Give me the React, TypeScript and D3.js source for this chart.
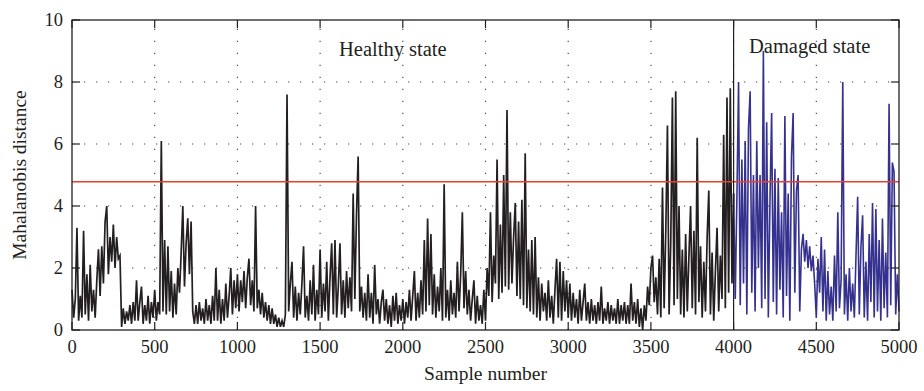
import React from "react";
import * as d3 from "d3";

// Mahalanobis distance, one value every 10 samples
const STEP = 10;
const healthy0 = [1.3,0.4,1.0,3.3,0.3,1.1,0.4,3.2,0.5,1.8,0.3,2.1,0.6,1.3,0.4,1.6,2.6,1.1,2.7,1.5,3.5,4.0,1.8,3.0,2.2,3.4,2.0,3.0,2.3,2.4,0.1,0.7,0.2,0.6,0.3,0.8,0.2,0.9,0.3,1.6,0.3,0.9,1.4,0.2,0.8,0.3,1.1,0.2,0.9,0.4];
const healthy1 = [1.3,0.3,0.9,0.5,6.1,0.6,2.9,0.5,2.7,0.6,1.9,0.4,1.5,0.5,2.0,1.2,2.5,4.0,1.4,2.8,3.6,1.8,3.5,0.6,0.2,0.8,0.2,0.9,0.3,0.7,0.2,1.0,0.3,0.8,0.2,1.1,0.3,2.0,0.3,1.3,0.2,1.0,0.3,1.5,0.4,1.1,2.0,0.5,1.6,0.7];
const healthy2 = [1.8,0.6,1.6,0.9,1.9,0.7,1.7,2.3,0.8,1.6,0.6,4.0,0.7,1.3,0.5,1.2,0.4,0.9,0.3,0.8,0.2,0.7,0.2,0.5,0.1,0.4,0.1,0.3,0.1,0.5,7.6,0.6,1.5,2.2,0.4,1.4,0.3,1.2,0.5,1.5,2.7,0.4,1.1,0.3,1.6,0.5,2.1,0.3,1.3,0.5];
const healthy3 = [2.6,0.4,1.5,0.6,2.2,0.3,1.7,2.8,0.5,2.9,0.4,1.4,2.8,0.5,1.6,0.4,1.9,0.7,1.7,0.6,4.4,1.0,3.7,5.6,0.6,1.4,0.4,1.2,0.3,1.8,0.4,1.2,0.2,2.1,0.5,1.0,0.2,0.9,1.3,0.3,1.0,0.2,0.8,0.1,1.1,0.3,1.2,0.2,0.8,0.3];
const healthy4 = [1.0,0.2,0.9,0.4,1.3,0.3,1.1,1.9,0.3,1.2,0.4,1.6,0.5,2.9,0.6,3.6,0.8,3.1,0.5,1.8,0.4,1.4,0.6,2.0,0.3,4.7,0.4,1.3,0.3,1.6,0.5,1.2,0.4,2.2,0.6,1.8,3.8,0.7,1.9,0.5,1.3,0.3,1.0,1.6,0.2,1.1,0.3,0.8,0.2,1.3];
const healthy5 = [0.3,2.0,1.1,3.8,0.9,2.4,1.5,5.5,1.0,3.4,1.2,5.0,1.4,7.1,1.3,3.8,1.5,3.0,4.1,1.1,3.5,1.0,4.2,0.8,5.7,0.7,2.6,0.6,2.9,0.5,3.0,0.4,1.7,0.3,1.5,0.6,1.2,0.3,1.6,0.4,1.1,0.2,1.3,2.3,0.4,2.2,0.3,1.9,0.6,1.6];
const healthy6 = [0.4,1.5,0.3,1.2,0.4,1.0,0.2,1.3,0.3,0.9,1.5,0.3,0.9,0.2,1.0,0.3,0.8,0.2,0.9,0.3,1.4,0.2,0.7,0.3,0.9,0.2,0.8,0.3,0.7,0.2,1.0,0.2,0.8,0.3,0.9,0.2,0.8,0.2,1.5,0.3,0.9,0.2,1.0,0.1,0.7,0.0,0.8,0.3,1.4,0.8];
const healthy7 = [2.0,2.4,0.9,1.7,0.5,2.3,0.4,4.6,0.7,3.2,6.6,0.5,2.8,7.5,0.8,7.7,1.0,4.0,0.5,2.6,0.4,3.1,0.6,2.4,4.0,0.7,3.2,0.5,6.2,0.9,2.7,0.4,2.2,0.6,3.0,4.5,0.5,2.5,0.3,1.9,3.3,0.6,2.4,1.0,6.3,0.7,7.5,1.2,7.8,1.5];
const damaged0 = [4.4,1.0,4.3,8.0,0.8,5.5,1.5,6.1,0.5,6.5,7.7,1.2,5.0,0.6,6.1,2.0,5.0,0.7,9.0,1.0,6.7,0.4,4.2,7.0,0.9,5.2,0.5,4.9,1.3,3.8,0.4,6.9,1.1,4.4,0.3,5.6,7.0,1.2,4.5,5.0,0.6,2.6,3.1,2.2,2.9,2.0,2.7,1.9,2.4,1.5];
const damaged1 = [0.4,2.3,1.2,3.0,0.6,2.6,0.3,1.9,0.5,1.4,0.3,2.4,0.6,3.8,0.7,1.6,8.0,0.5,1.8,0.3,2.0,0.6,1.5,0.4,2.4,4.3,0.5,2.7,3.7,0.4,2.2,0.3,3.1,0.9,4.1,0.4,3.9,0.6,2.9,0.3,3.6,0.7,2.5,0.4,7.3,0.8,5.4,5.1,0.5,1.8,0.6];

const HEALTHY_START = 0;
const DAMAGED_START = 4000;
const THRESHOLD = 4.78;
const X_TICKS = [0, 500, 1000, 1500, 2000, 2500, 3000, 3500, 4000, 4500, 5000];
const Y_TICKS = [0, 2, 4, 6, 8, 10];
const X_LABEL = "Sample number";
const Y_LABEL = "Mahalanobis distance";
const HEALTHY_LABEL = "Healthy state";
const DAMAGED_LABEL = "Damaged state";

const W = 924, H = 391;
const M = { left: 72, right: 25, top: 20, bottom: 61 };
const FONT = "'Liberation Serif', 'Times New Roman', serif";
const INK = "#231f20";

export default function App() {
  const healthy = [...healthy0, ...healthy1, ...healthy2, ...healthy3, ...healthy4, ...healthy5, ...healthy6, ...healthy7]
    .map((v, i) => ({ x: HEALTHY_START + i * STEP, y: v }));
  const damaged = [...damaged0, ...damaged1].map((v, i) => ({ x: DAMAGED_START + i * STEP, y: v }));
  healthy.push({ x: DAMAGED_START, y: damaged[0].y });

  const x = d3.scaleLinear().domain([0, 5000]).range([M.left, W - M.right]);
  const y = d3.scaleLinear().domain([0, 10]).range([H - M.bottom, M.top]);
  const line = d3.line<{ x: number; y: number }>().x(d => x(d.x)).y(d => y(d.y));

  const x0 = x(0), x1 = x(5000), y0 = y(0), y1 = y(10);
  const tick = 8;

  return (
    <svg width={W} height={H} style={{ position: "absolute", left: 0, top: 0, background: "#fff" }}
      fontFamily={FONT}>
      <g stroke={INK} strokeWidth={1.1} strokeDasharray="1.2 10.8" opacity={0.85}>
        {X_TICKS.slice(1, -1).map(t => (
          <line key={"gx" + t} x1={x(t)} x2={x(t)} y1={y0} y2={y1} />
        ))}
        {Y_TICKS.slice(1, -1).map(t => (
          <line key={"gy" + t} x1={x0} x2={x1} y1={y(t)} y2={y(t)} />
        ))}
      </g>
      <path d={line(healthy) || ""} fill="none" stroke={INK} strokeWidth={1.7} />
      <path d={line(damaged) || ""} fill="none" stroke="#35318f" strokeWidth={1.6} />
      <line x1={x0} x2={x1} y1={y(THRESHOLD)} y2={y(THRESHOLD)} stroke="#e8402f" strokeWidth={1.4} />
      <line x1={x(DAMAGED_START)} x2={x(DAMAGED_START)} y1={y0} y2={y1} stroke={INK} strokeWidth={1.2} />
      <rect x={x0} y={y1} width={x1 - x0} height={y0 - y1} fill="none" stroke={INK} strokeWidth={1.3} />
      <g stroke={INK} strokeWidth={1.2}>
        {X_TICKS.map(t => (
          <g key={"tx" + t}>
            <line x1={x(t)} x2={x(t)} y1={y0} y2={y0 - tick} />
            <line x1={x(t)} x2={x(t)} y1={y1} y2={y1 + tick} />
          </g>
        ))}
        {Y_TICKS.map(t => (
          <g key={"ty" + t}>
            <line x1={x0} x2={x0 + tick} y1={y(t)} y2={y(t)} />
            <line x1={x1} x2={x1 - tick} y1={y(t)} y2={y(t)} />
          </g>
        ))}
      </g>
      <g fill={INK} fontSize={18.5}>
        {X_TICKS.map(t => (
          <text key={"lx" + t} x={x(t)} y={y0 + 23} textAnchor="middle">{t}</text>
        ))}
        {Y_TICKS.map(t => (
          <text key={"ly" + t} x={x0 - 9} y={y(t) + 6} textAnchor="end">{t}</text>
        ))}
      </g>
      <text x={(x0 + x1) / 2} y={380} textAnchor="middle" fontSize={19.5} fill={INK}>{X_LABEL}</text>
      <text transform={`translate(26, ${(y0 + y1) / 2}) rotate(-90)`} textAnchor="middle" fontSize={19.5} fill={INK}>{Y_LABEL}</text>
      <text x={339} y={56} fontSize={20.5} fill={INK}>{HEALTHY_LABEL}</text>
      <text x={749} y={53} fontSize={20.5} fill={INK}>{DAMAGED_LABEL}</text>
    </svg>
  );
}
